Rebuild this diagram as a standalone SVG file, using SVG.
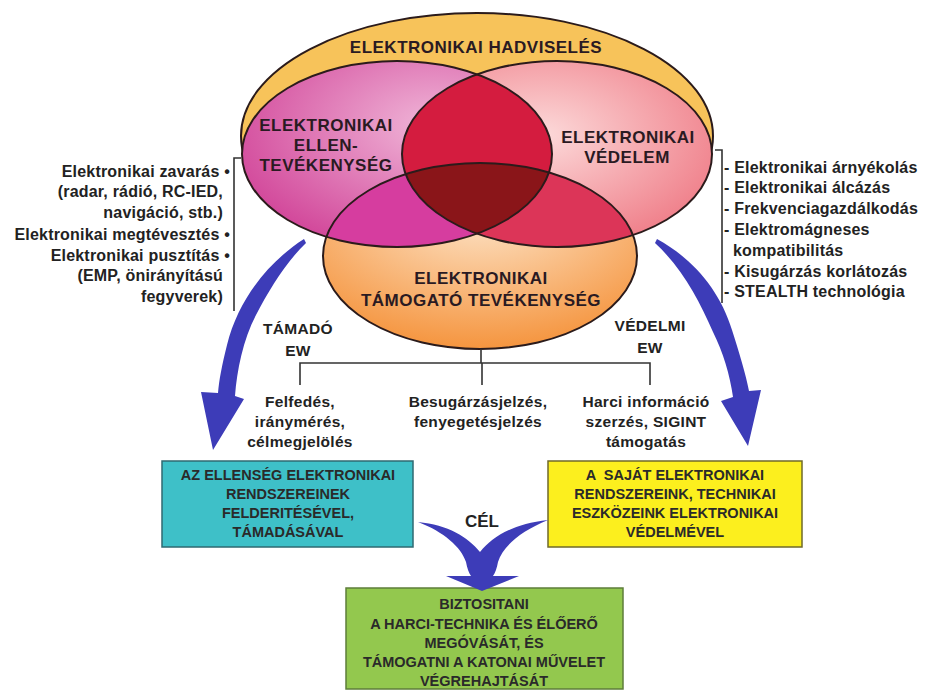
<svg xmlns="http://www.w3.org/2000/svg" width="929" height="691" viewBox="0 0 929 691">
<defs>
<style>
text{font-family:"Liberation Sans",Arial,sans-serif;font-weight:bold;fill:#222}
.lbl{font-size:17px;letter-spacing:0.5px;text-anchor:middle;fill:#2a1a22}
.lst{font-size:16px;letter-spacing:0.2px}
.end{text-anchor:end}
.mid{text-anchor:middle}
.tr{font-size:15.5px;letter-spacing:0.3px;text-anchor:middle}
.bx{font-size:14.5px;text-anchor:middle;fill:#2a2a2a}
.edge{stroke:#2b1b1b;stroke-width:2}
.ln{fill:none;stroke:#333;stroke-width:1.6}
.arr{fill:#3d3cb8}
</style>
<radialGradient id="gL" cx="0.62" cy="0.35" r="0.7">
<stop offset="0" stop-color="#F0B6D8"/><stop offset="1" stop-color="#D2479A"/>
</radialGradient>
<radialGradient id="gR" cx="0.45" cy="0.4" r="0.7">
<stop offset="0" stop-color="#FCDADA"/><stop offset="1" stop-color="#EE7480"/>
</radialGradient>
<radialGradient id="gB" cx="0.5" cy="0.25" r="0.75">
<stop offset="0" stop-color="#FDE6CC"/><stop offset="1" stop-color="#F5953F"/>
</radialGradient>
<clipPath id="cL"><ellipse cx="397" cy="154" rx="155" ry="93"/></clipPath>
<clipPath id="cR"><ellipse cx="557" cy="154" rx="155" ry="93"/></clipPath>
</defs>
<rect width="929" height="691" fill="#fff"/>

<g id="hadviseles">
<ellipse cx="477" cy="136" rx="236" ry="123" fill="#F7C35A" class="edge"/>
<text class="lbl" x="476" y="53">ELEKTRONIKAI HADVISELÉS</text>
</g>

<g id="ellentevekenyseg">
<ellipse cx="397" cy="154" rx="155" ry="93" fill="url(#gL)"/>
</g>
<g id="vedelem">
<ellipse cx="557" cy="154" rx="155" ry="93" fill="url(#gR)"/>
</g>
<g id="tamogato">
<ellipse cx="480" cy="256" rx="157" ry="93" fill="url(#gB)"/>
</g>
<g id="metszetek">
<ellipse cx="557" cy="154" rx="155" ry="93" fill="#D41C3F" clip-path="url(#cL)"/>
<ellipse cx="480" cy="256" rx="157" ry="93" fill="#D63D9F" clip-path="url(#cL)"/>
<ellipse cx="480" cy="256" rx="157" ry="93" fill="#DC3558" clip-path="url(#cR)"/>
<g clip-path="url(#cL)"><ellipse cx="480" cy="256" rx="157" ry="93" fill="#8A1519" clip-path="url(#cR)"/></g>
<ellipse cx="397" cy="154" rx="155" ry="93" fill="none" class="edge"/>
<ellipse cx="557" cy="154" rx="155" ry="93" fill="none" class="edge"/>
<ellipse cx="480" cy="256" rx="157" ry="93" fill="none" class="edge"/>
</g>

<g id="lbl-ellen">
<text class="lbl" x="326" y="131">ELEKTRONIKAI</text>
<text class="lbl" x="326" y="151">ELLEN-</text>
<text class="lbl" x="326" y="171">TEVÉKENYSÉG</text>
</g>
<g id="lbl-vedelem">
<text class="lbl" x="628" y="143">ELEKTRONIKAI</text>
<text class="lbl" x="627" y="163">VÉDELEM</text>
</g>
<g id="lbl-tamogato">
<text class="lbl" x="481" y="284">ELEKTRONIKAI</text>
<text class="lbl" x="481" y="306">TÁMOGATÓ TEVÉKENYSÉG</text>
</g>

<g id="lista-bal">
<text class="lst end" x="230" y="177">Elektronikai zavarás •</text>
<text class="lst end" x="223" y="197">(radar, rádió, RC-IED,</text>
<text class="lst end" x="223" y="218">navigáció, stb.)</text>
<text class="lst end" x="230" y="240">Elektronikai megtévesztés •</text>
<text class="lst end" x="230" y="261">Elektronikai pusztítás •</text>
<text class="lst end" x="223" y="281">(EMP, önirányítású</text>
<text class="lst end" x="223" y="302">fegyverek)</text>
</g>
<g id="lista-jobb">
<text class="lst" x="724" y="173">- Elektronikai árnyékolás</text>
<text class="lst" x="724" y="193">- Elektronikai álcázás</text>
<text class="lst" x="724" y="214">- Frekvenciagazdálkodás</text>
<text class="lst" x="724" y="235">- Elektromágneses</text>
<text class="lst" x="733" y="256">kompatibilitás</text>
<text class="lst" x="724" y="277">- Kisugárzás korlátozás</text>
<text class="lst" x="724" y="297">- STEALTH technológia</text>
</g>

<g id="ew-labels">
<text class="tr" x="298" y="334">TÁMADÓ</text>
<text class="tr" x="298" y="356">EW</text>
<text class="tr" x="650" y="331">VÉDELMI</text>
<text class="tr" x="650" y="353">EW</text>
</g>

<g id="tree-texts">
<text class="tr" x="300" y="407">Felfedés,</text>
<text class="tr" x="300" y="427">iránymérés,</text>
<text class="tr" x="300" y="447">célmegjelölés</text>
<text class="tr" x="478" y="407">Besugárzásjelzés,</text>
<text class="tr" x="478" y="427">fenyegetésjelzés</text>
<text class="tr" x="646" y="407">Harci információ</text>
<text class="tr" x="646" y="427">szerzés, SIGINT</text>
<text class="tr" x="646" y="447">támogatás</text>
</g>

<g id="box-tamado">
<rect x="162" y="461" width="251" height="86" fill="#3EC0C8" stroke="#2f6a72" stroke-width="1.5"/>
<text class="bx" x="288" y="480">AZ ELLENSÉG ELEKTRONIKAI</text>
<text class="bx" x="288" y="499">RENDSZEREINEK</text>
<text class="bx" x="288" y="518">FELDERITÉSÉVEL,</text>
<text class="bx" x="288" y="537">TÁMADÁSÁVAL</text>
</g>
<g id="box-vedelmi">
<rect x="548" y="461" width="254" height="86" fill="#FCEF1E" stroke="#6f6a2a" stroke-width="1.5"/>
<text class="bx" x="675" y="480" xml:space="preserve">A  SAJÁT ELEKTRONIKAI</text>
<text class="bx" x="675" y="499">RENDSZEREINK, TECHNIKAI</text>
<text class="bx" x="675" y="518">ESZKÖZEINK ELEKTRONIKAI</text>
<text class="bx" x="675" y="537">VÉDELMÉVEL</text>
</g>
<g id="box-cel">
<rect x="346" y="588" width="277" height="101" fill="#93C84E" stroke="#5e7e3a" stroke-width="1.5"/>
<text class="bx" x="484" y="609">BIZTOSITANI</text>
<text class="bx" x="484" y="629">A HARCI-TECHNIKA ÉS ÉLŐERŐ</text>
<text class="bx" x="484" y="648">MEGÓVÁSÁT, ÉS</text>
<text class="bx" x="484" y="667">TÁMOGATNI A KATONAI MŰVELET</text>
<text class="bx" x="484" y="686">VÉGREHAJTÁSÁT</text>
</g>

<g id="connectors">
<path class="ln" d="M481,349 V363 M300,385 V363 H650 V385 M482,363 V385"/>
<path class="ln" d="M241,158 H234 V311"/>
<path class="ln" d="M715,150 H722 V303"/>
<path class="arr" d="M304,239 C268,262 238,300 227,345 C222,365 219,380 218,393 L201,392 L213,450 L244,399 L235,396 C237,370 243,340 256,315 C269,290 286,262 306,243 Z"/>
<path class="arr" d="M657,239 C692,258 720,290 732,330 C739,352 746,375 749,391 L761,390 L748,446 L721,401 L733,397 C730,375 723,352 713,332 C699,300 682,268 655,243 Z"/>
<path class="arr" d="M418,522 C448,525 468,537 480,552 C492,537 512,524 548,520 C521,531 503,546 498,562 C497,568 495,573 493,576 L519,576 L482,591 L446,576 L471,576 C469,573 467,568 466,562 C461,547 444,532 418,522 Z"/>
<text x="482" y="527" class="mid" style="font-size:17px">CÉL</text>
</g>
</svg>
